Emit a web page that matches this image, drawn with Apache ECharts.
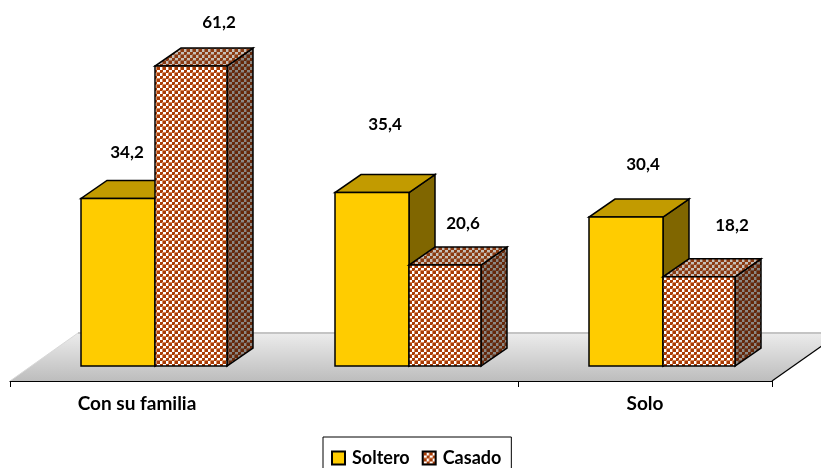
<!DOCTYPE html>
<html><head><meta charset="utf-8">
<style>html,body{margin:0;padding:0;background:#fff}#c{width:821px;height:468px}</style>
<script src="https://cdn.jsdelivr.net/npm/echarts@6/dist/echarts.min.js"></script>
</head><body><div id="c"></div>
<script>
const categories = ['Con su familia', 'Con parientes y amigos', 'Solo'];
const soltero = [34.2, 35.4, 30.4];
const casado = [61.2, 20.6, 18.2];
const valueText = v => v.toFixed(1).replace('.', ',');

// label offsets from the top-centre of each front face (manual placement in the reference)
const solteroLabelOffset = [[9, -46], [13, -68], [17, -53]];
const casadoLabelOffset = [[28, -44], [18, -42], [33, -51]];

const FONT = 'Lato';
const DX = 26, DY = -18, BAR_W = [74, 72], START = -56;

function checker(base, dark, light) {
  const c = document.createElement('canvas');
  c.width = c.height = 6;
  const g = c.getContext('2d');
  g.fillStyle = base; g.fillRect(0, 0, 6, 6);
  g.fillStyle = dark; g.fillRect(1, 1, 3, 3); g.fillRect(4, 4, 2, 2); g.fillRect(4, 0, 2, 1);g.fillRect(0, 4, 1, 2);
  g.fillStyle = light; g.fillRect(4, 1, 2, 3); g.fillRect(1, 4, 3, 2);
  return { image: c, repeat: 'repeat' };
}
const patFront = checker('#d98a5c', '#a83c06', '#ffffff');
const patTop = checker('#a5745a', '#8a3a12', '#c6bfb8');
const patSide = checker('#6f5142', '#66280a', '#8c8782');

function barRenderer(slot, faces, labelOffset) {
  return function (params, api) {
    const i = api.value(0), v = api.value(1);
    const top = api.coord([i, v]), base = api.coord([i, 0]);
    let x0 = top[0] + START;
    for (let s = 0; s < slot; s++) x0 += BAR_W[s];
    const x1 = x0 + BAR_W[slot], yt = top[1], yb = base[1];
    const line = { stroke: '#000', lineWidth: 1.5, lineJoin: 'miter' };
    const poly = (pts, fill) => ({ type: 'polygon', shape: { points: pts }, style: Object.assign({ fill }, line) });
    const off = labelOffset[params.dataIndex];
    return {
      type: 'group',
      children: [
        poly([[x1, yt], [x1 + DX, yt + DY], [x1 + DX, yb + DY], [x1, yb]], faces.side),
        poly([[x0, yt], [x1, yt], [x1 + DX, yt + DY], [x0 + DX, yt + DY]], faces.top),
        poly([[x0, yt], [x1, yt], [x1, yb], [x0, yb]], faces.front),
        { type: 'text', z2: 100, style: {
            x: (x0 + x1) / 2 + off[0], y: yt + off[1], text: valueText(v),
            fill: '#000', font: 'bold 17px ' + FONT, align: 'center', verticalAlign: 'middle' } }
      ]
    };
  };
}

function floorRenderer(params, api) {
  const cs = params.coordSys;
  const fy = cs.y + cs.height + 15, by = fy - 48, x0 = cs.x, x1 = cs.x + cs.width, d = 68;
  return {
    type: 'group',
    children: [
      { type: 'polygon', shape: { points: [[x0, fy], [x1, fy], [x1 + d, by], [x0 + d, by]] },
        style: { fill: { type: 'linear', x: 0, y: 0, x2: 0, y2: 1,
          colorStops: [{ offset: 0, color: '#ececec' }, { offset: 1, color: '#bdbdbd' }] } } },
      { type: 'line', shape: { x1: x0 + d, y1: by, x2: x1 + d, y2: by }, style: { stroke: '#c4c4c4', lineWidth: 2 } },
      { type: 'line', shape: { x1: x1, y1: fy, x2: x1 + d, y2: by }, style: { stroke: '#000', lineWidth: 1.2 } },
      { type: 'line', shape: { x1: x0, y1: fy, x2: x0 + d, y2: by }, style: { stroke: '#d8d8d8', lineWidth: 1 } }
    ]
  };
}

const chart = echarts.init(document.getElementById('c'), null, { renderer: 'canvas' });
chart.setOption({
  animation: false,
  backgroundColor: '#fff',
  grid: { left: 10, right: 49, top: 23, bottom: 102 },
  xAxis: {
    type: 'category', data: categories, offset: 15,
    axisLine: { onZero: false, lineStyle: { color: '#000', width: 1.2 } },
    axisTick: { show: true, length: 6, lineStyle: { color: '#000', width: 1 } },
    axisLabel: { color: '#000', fontFamily: FONT, fontSize: 19, fontWeight: 'bold', margin: 13 },
    z: 5
  },
  yAxis: { type: 'value', min: 0, max: 70, show: false, splitLine: { show: false } },
  legend: {
    data: ['Soltero', 'Casado'], left: 323, top: 437, orient: 'horizontal',
    padding: [12, 10, 5, 8], itemWidth: 13, itemHeight: 13, itemGap: 12,
    backgroundColor: '#fff', borderColor: '#000', borderWidth: 1,
    icon: 'rect',
    textStyle: { color: '#000', fontFamily: FONT, fontSize: 18, fontWeight: 'bold', padding: [0, 0, 0, 2] }
  },
  series: [
    { type: 'custom', name: 'floor', silent: true, z: 1, renderItem: floorRenderer, data: [[0, 0]], clip: false },
    { type: 'custom', name: 'Soltero', z: 2, clip: false,
      itemStyle: { color: '#FFCC00', borderColor: '#000', borderWidth: 1.5 },
      renderItem: barRenderer(0, { front: '#FFCC00', top: '#C29B00', side: '#806600' }, solteroLabelOffset),
      data: soltero.map((v, i) => [i, v]) },
    { type: 'custom', name: 'Casado', z: 3, clip: false,
      itemStyle: { color: patFront, borderColor: '#000', borderWidth: 1.5 },
      renderItem: barRenderer(1, { front: patFront, top: patTop, side: patSide }, casadoLabelOffset),
      data: casado.map((v, i) => [i, v]) }
  ]
});
</script></body></html>
